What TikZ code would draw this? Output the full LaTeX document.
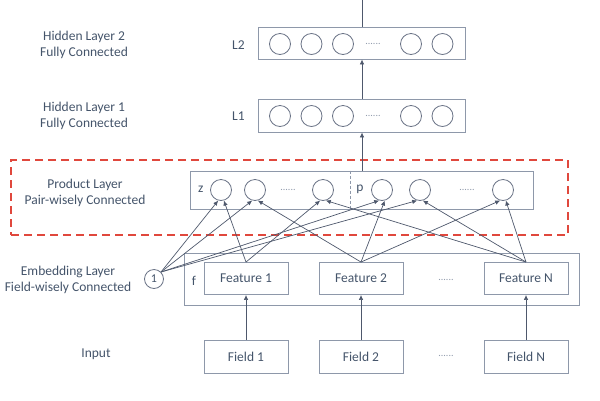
\documentclass[tikz,border=0pt]{standalone}
\usepackage{fontspec}
\setmainfont{Carlito}
\usetikzlibrary{arrows.meta}
\definecolor{txt}{HTML}{44546A}
\definecolor{boxc}{HTML}{8E98AA}
\definecolor{linec}{HTML}{4E586C}
\definecolor{circc}{HTML}{6A7386}
\definecolor{redd}{HTML}{E0483D}
\begin{document}
\begin{tikzpicture}[x=1pt,y=-1pt,
  every node/.style={font=\fontsize{13.5}{16}\selectfont, text=txt},
  layerbox/.style={draw=boxc, line width=0.9pt, inner sep=0pt},
  featbox/.style={draw=boxc, line width=0.9pt, minimum width=84pt, minimum height=32pt, inner sep=0pt},
  unit/.style={circle, draw=circc, line width=0.8pt, minimum size=21pt, inner sep=0pt},
  conn/.style={draw=linec, line width=0.7pt, -{Latex[length=5pt,width=4.5pt]}},
  plainline/.style={draw=linec, line width=0.7pt},
  dotsl/.style={font=\fontsize{10}{10}\selectfont, text=boxc},
  lbl/.style={align=center}
]
\useasboundingbox (0,0) rectangle (600,400);

% product frame
\node[draw=redd, line width=1.6pt, dash pattern=on 8pt off 5pt, minimum width=557pt, minimum height=75pt, inner sep=0pt] (frame) at (289.5,197.5) {};

% hidden layer 2
\node[layerbox, minimum width=207pt, minimum height=32pt] (L2) at (362,43) {};
\foreach \x/\n in {280/a,311.5/b,343/c,411/d,442.5/e}
  \node[unit] (L2\n) at (\x,44) {};
\node[dotsl] (L2dots) at (373,44) {......};
\node (L2lab) at (238.5,45) {L2};
\node[lbl] (H2) at (84,45) {Hidden Layer 2\\Fully Connected};

% hidden layer 1
\node[layerbox, minimum width=207pt, minimum height=33pt] (L1) at (362,115.5) {};
\foreach \x/\n in {280/a,311.5/b,343/c,411/d,442.5/e}
  \node[unit] (L1\n) at (\x,116) {};
\node[dotsl] (L1dots) at (373,116) {......};
\node (L1lab) at (238.5,116) {L1};
\node[lbl] (H1) at (84,116) {Hidden Layer 1\\Fully Connected};

% product layer
\node[layerbox, minimum width=343pt, minimum height=38pt] (P) at (361.5,190) {};
\coordinate (div) at (350,190);
\draw[boxc, line width=0.8pt, dash pattern=on 3pt off 2pt] (P.north -| div) -- (P.south -| div);
\node (zl) at (200.7,189) {z};
\node (pl) at (360,189) {p};
\node[unit] (z1) at (221,190) {};
\node[unit] (z2) at (255,190) {};
\node[unit] (z3) at (323,190) {};
\node[unit] (p1) at (382,190) {};
\node[unit] (p2) at (420,190) {};
\node[unit] (p3) at (503,190) {};
\node[dotsl] (zdots) at (288,190) {......};
\node[dotsl] (pdots) at (467,190) {......};
\node[lbl] (PL) at (85,193) {Product Layer\\Pair-wisely Connected};

% embedding layer
\node[layerbox, minimum width=395pt, minimum height=52pt] (E) at (381.5,279) {};
\node (fl) at (194,281) {f};
\node[featbox] (F1) at (246,278.5) {Feature 1};
\node[featbox] (F2) at (361,278.5) {Feature 2};
\node[featbox] (FN) at (526,278.5) {Feature N};
\node[dotsl] (Fdots) at (446,280) {......};
\node[circle, draw=circc, line width=0.8pt, minimum size=19pt, inner sep=0pt, font=\fontsize{12}{12}\selectfont] (one) at (154,279) {1};
\node[lbl] (EL) at (68,280) {Embedding Layer\\Field-wisely Connected};

% input
\node[featbox, minimum height=33pt] (D1) at (246,356.5) {Field 1};
\node[featbox, minimum height=33pt] (D2) at (361,356.5) {Field 2};
\node[featbox, minimum height=33pt] (DN) at (526,356.5) {Field N};
\node[dotsl] (Ddots) at (446,356) {......};
\node (IL) at (96,354) {Input};

% vertical connectors
\coordinate (top) at (362,0);
\draw[plainline] (L2.north) -- (top);
\draw[conn] (L1.north) -- (L2.south);
\draw[conn] (P.north -| L1.south) -- (L1.south);
\draw[conn] (D1.north) -- (F1.south);
\draw[conn] (D2.north) -- (F2.south);
\draw[conn] (DN.north) -- (FN.south);

% embedding to product
\draw[conn] (one.north east) -- (z1.255);
\draw[conn] (one.north east) -- (z2.255);
\draw[conn] (one.north east) -- (p1.255);
\draw[conn] (one.north east) -- (p2.255);
\draw[conn] (F1.north) -- (z1.285);
\draw[conn] (F1.north) -- (z3.255);
\draw[conn] (F2.north) -- (z2.285);
\draw[conn] (F2.north) -- (p1.285);
\draw[conn] (F2.north) -- (p3.255);
\draw[conn] (FN.north) -- (z3.285);
\draw[conn] (FN.north) -- (p2.285);
\draw[conn] (FN.north) -- (p3.285);
\end{tikzpicture}
\end{document}
